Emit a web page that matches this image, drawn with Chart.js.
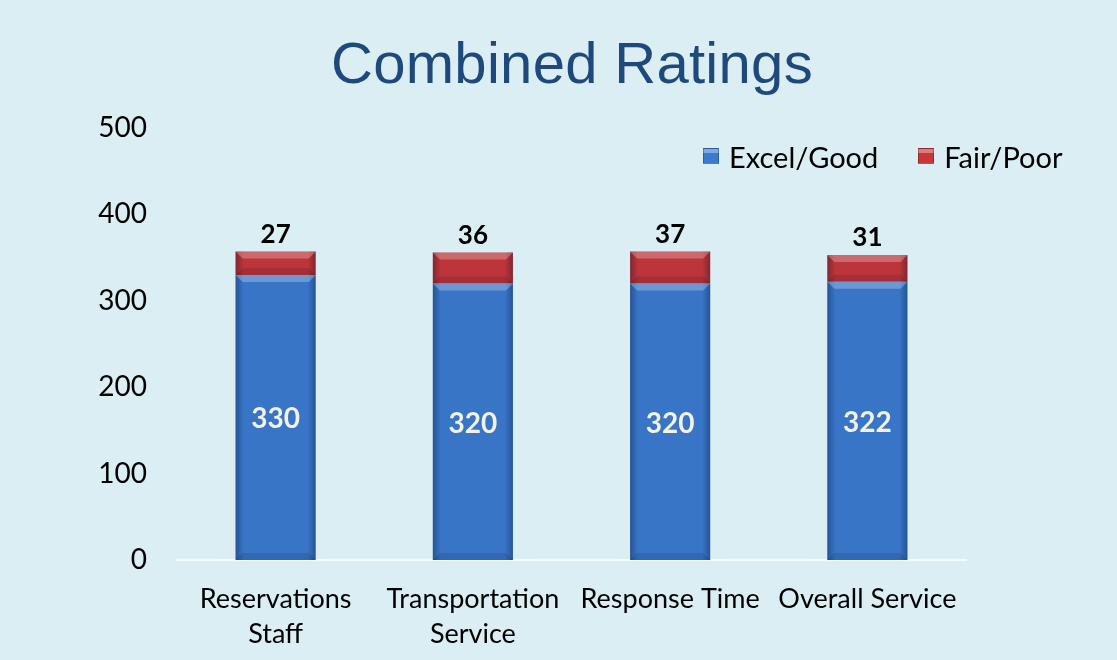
<!DOCTYPE html>
<html>
<head>
<meta charset="utf-8">
<script src="https://cdn.jsdelivr.net/npm/chart.js@4.4.1/dist/chart.umd.min.js"></script>
<style>
  html, body { margin: 0; padding: 0; background: #DAEEF3; }
  #wrap { position: relative; width: 1117px; height: 660px; background: #DAEEF3; }
  #c { position: absolute; left: 0; top: 0; }
  #title { position: absolute; left: 172px; width: 800px; top: 28px; text-align: center; white-space: nowrap;
           font-family: 'Liberation Sans', Arial, sans-serif; font-size: 58px; line-height: 70px; color: #1F497D; letter-spacing: 0.3px; }
  #legend { position: absolute; left: 703px; top: 135px; font-family: Lato, sans-serif; font-size: 29px; color: #000; white-space: nowrap; }
  .item { display: inline-flex; align-items: center; margin-right: 40px; }
  .box { width: 16px; height: 16px; margin-right: 10px; box-sizing: border-box; }
</style>
</head>
<body>
<div id="wrap">
  <canvas id="c" width="1117" height="660"></canvas>
  <div id="title"></div>
  <div id="legend"></div>
</div>
<script>
const categories = [['Reservations', 'Staff'], ['Transportation', 'Service'], 'Response Time', 'Overall Service'];
const excelGood = [330, 320, 320, 322];
const fairPoor = [27, 36, 37, 31];
const seriesNames = ['Excel/Good', 'Fair/Poor'];
const yTicks = [0, 100, 200, 300, 400, 500];
const titleText = 'Combined Ratings';

const BLUE = '#3b7bcf';
const RED = '#c6373a';

const bevelPlugin = {
  id: 'bevel',
  afterDatasetsDraw(chart) {
    const ctx = chart.ctx;
    chart.data.datasets.forEach((ds, di) => {
      const meta = chart.getDatasetMeta(di);
      meta.data.forEach((el) => {
        const p = el.getProps(['x', 'y', 'base', 'width'], true);
        const l = p.x - p.width / 2, r = p.x + p.width / 2;
        const t = Math.min(p.y, p.base), b = Math.max(p.y, p.base);
        ctx.save();
        const g = ctx.createLinearGradient(l, 0, r, 0);
        g.addColorStop(0, 'rgba(0,10,40,0.35)');
        g.addColorStop(0.1, 'rgba(0,10,40,0.05)');
        g.addColorStop(0.9, 'rgba(0,10,40,0.05)');
        g.addColorStop(1, 'rgba(0,10,40,0.35)');
        ctx.fillStyle = g;
        ctx.fillRect(l, t, r - l, b - t);
        const bev = 7;
        ctx.beginPath();
        ctx.moveTo(l, t);
        ctx.lineTo(r, t);
        ctx.lineTo(r - bev, t + bev);
        ctx.lineTo(l + bev, t + bev);
        ctx.closePath();
        ctx.fillStyle = 'rgba(255,255,255,0.26)';
        ctx.fill();
        ctx.beginPath();
        ctx.moveTo(l, b);
        ctx.lineTo(r, b);
        ctx.lineTo(r - bev, b - bev);
        ctx.lineTo(l + bev, b - bev);
        ctx.closePath();
        ctx.fillStyle = 'rgba(0,10,40,0.12)';
        ctx.fill();
        ctx.restore();
      });
    });
  }
};

const labelPlugin = {
  id: 'valueLabels',
  afterDatasetsDraw(chart) {
    const ctx = chart.ctx;
    ctx.save();
    ctx.textAlign = 'center';
    ctx.textBaseline = 'middle';
    chart.data.datasets.forEach((ds, di) => {
      const meta = chart.getDatasetMeta(di);
      meta.data.forEach((el, i) => {
        const p = el.getProps(['x', 'y', 'base'], true);
        if (di === 0) {
          ctx.font = 'bold 28px Lato, sans-serif';
          ctx.fillStyle = '#f4f1e6';
          ctx.fillText(String(ds.data[i]), p.x, (p.y + p.base) / 2 + 2);
        } else {
          ctx.font = 'bold 26px Lato, sans-serif';
          ctx.fillStyle = '#000';
          ctx.fillText(String(ds.data[i]), p.x, Math.min(p.y, p.base) - 17);
        }
      });
    });
    ctx.restore();
  }
};

const colors = [BLUE, RED];
const chart = new Chart(document.getElementById('c'), {
  type: 'bar',
  data: {
    labels: categories,
    datasets: [
      { label: seriesNames[0], data: excelGood, backgroundColor: BLUE },
      { label: seriesNames[1], data: fairPoor, backgroundColor: RED }
    ]
  },
  options: {
    responsive: false,
    animation: false,
    layout: { padding: { left: 27, right: 151, top: 128, bottom: 0 } },
    datasets: { bar: { categoryPercentage: 1, barPercentage: 0.406 } },
    plugins: {
      legend: { display: false },
      tooltip: { enabled: false },
      title: { display: false }
    },
    scales: {
      x: {
        stacked: true,
        grid: { display: false },
        border: { display: true, color: 'rgba(245,251,253,0.95)', width: 2 },
        ticks: { color: '#000', font: { family: 'Lato, sans-serif', size: 27, lineHeight: 1.28 }, padding: 14, maxRotation: 0, autoSkip: false },
        afterFit(scale) { scale.height = 100; }
      },
      y: {
        stacked: true,
        min: 0, max: 500,
        afterBuildTicks(scale) { scale.ticks = yTicks.map(v => ({ value: v })); },
        grid: { display: false, drawTicks: false },
        border: { display: false },
        ticks: { color: '#000', font: { family: 'Lato, sans-serif', size: 28 }, padding: 30 },
        afterFit(scale) { scale.width = 150; }
      }
    }
  },
  plugins: [bevelPlugin, labelPlugin]
});

document.getElementById('title').textContent = titleText;

const legend = document.getElementById('legend');
chart.data.datasets.forEach((ds, i) => {
  const item = document.createElement('span');
  item.className = 'item';
  const box = document.createElement('span');
  box.className = 'box';
  box.style.background = 'linear-gradient(to bottom, rgba(255,255,255,0.35) 0, rgba(255,255,255,0.35) 30%, rgba(0,0,0,0) 30%), ' + colors[i];
  box.style.border = '1px solid rgba(0,0,0,0.25)';
  const txt = document.createElement('span');
  txt.textContent = ds.label;
  item.appendChild(box);
  item.appendChild(txt);
  legend.appendChild(item);
});
</script>
</body>
</html>
